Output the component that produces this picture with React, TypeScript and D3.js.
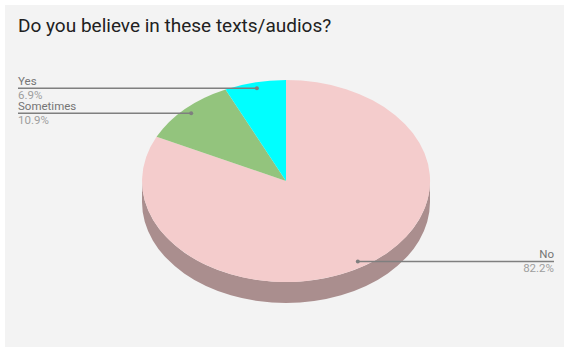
import React from "react";
import * as d3 from "d3";

const categories = ["No", "Sometimes", "Yes"];
const shares = [82.2, 10.9, 6.9];
const topColors = ["#f4cccc", "#93c47d", "#00ffff"];
const rimColor = "#aa8e8e";

const W = 564;
const H = 347;
const cx = 286;
const cy = 181;
const rx = 144;
const ry = 101;
const depth = 21;

const pie = d3.pie<number>().sort(null).value((d) => d);
const arcs = pie(shares);
const arc = d3.arc<d3.PieArcDatum<number>>().innerRadius(0).outerRadius(1);

// Flattened disc: unit-radius arcs are scaled into an ellipse.
const xs = d3.scaleLinear().domain([-1, 1]).range([cx - rx, cx + rx]);
const ys = d3.scaleLinear().domain([-1, 1]).range([cy - ry, cy + ry]);
const discTransform = `translate(${cx},${cy}) scale(${rx},${ry})`;

const labelFont = "Roboto, sans-serif";

type Callout = {
  index: number;
  anchorRadius: number;
  lineEndX: number;
  textAnchor: "start" | "end";
};

const callouts: Callout[] = [
  { index: 0, anchorRadius: 0.94, lineEndX: 554, textAnchor: "end" },
  { index: 1, anchorRadius: 0.94, lineEndX: 18, textAnchor: "start" },
  { index: 2, anchorRadius: 0.94, lineEndX: 18, textAnchor: "start" },
];

export default function App() {
  return (
    <svg
      width={W}
      height={H}
      style={{ position: "fixed", left: 0, top: 0, display: "block", background: "#ffffff" }}
    >
      <rect x={5} y={5} width={W - 5} height={H - 5} fill="#f3f3f3" />
      <text x={18} y={32} fontFamily={labelFont} fontSize={19} fill="#212121">
        Do you believe in these texts/audios?
      </text>

      {/* side wall of the disc */}
      <path
        transform={`translate(0,${depth})`}
        d={`M${xs(-1)},${cy}A${rx},${ry} 0 0 0 ${xs(1)},${cy}L${xs(1)},${cy - depth}A${rx},${ry} 0 0 1 ${xs(-1)},${cy - depth}Z`}
        fill={rimColor}
      />

      <g transform={discTransform}>
        {arcs.map((a, i) => (
          <path key={categories[i]} d={arc(a) ?? ""} fill={topColors[i]} />
        ))}
      </g>

      {callouts.map((c) => {
        const a = arcs[c.index];
        const mid = (a.startAngle + a.endAngle) / 2;
        const px = xs(Math.sin(mid) * c.anchorRadius);
        const py = ys(-Math.cos(mid) * c.anchorRadius);
        return (
          <g key={categories[c.index]} fontFamily={labelFont} fontSize={11.5} textAnchor={c.textAnchor}>
            <line x1={c.lineEndX} x2={px} y1={py} y2={py} stroke="#7f7f7f" strokeWidth={1.5} />
            <circle cx={px} cy={py} r={2} fill="#7f7f7f" />
            <text x={c.lineEndX} y={py - 3} fill="#757575">
              {categories[c.index]}
            </text>
            <text x={c.lineEndX} y={py + 11} fill="#9e9e9e">
              {shares[c.index].toFixed(1)}%
            </text>
          </g>
        );
      })}
    </svg>
  );
}
